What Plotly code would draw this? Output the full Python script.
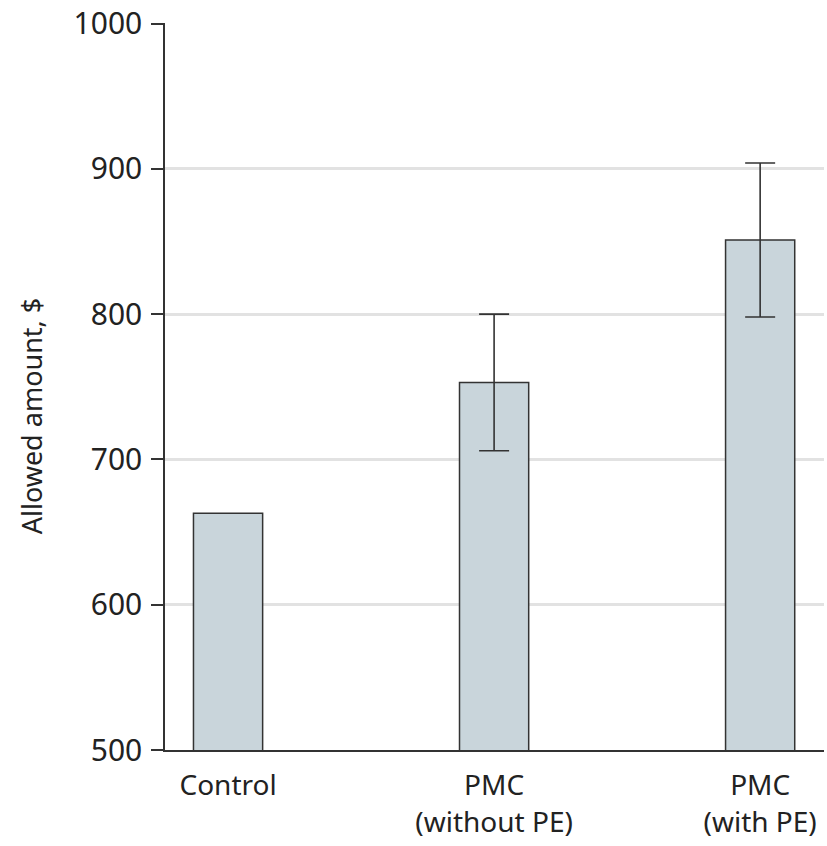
import plotly.graph_objects as go

categories = ["Control", "PMC<br>(without PE)", "PMC<br>(with PE)"]
allowed_amount = [663, 753, 851]
err_plus = [None, 47, 53]
err_minus = [None, 47, 53]
y_ticks = [500, 600, 700, 800, 900, 1000]
y_title = "Allowed amount, $"

positions = list(range(len(categories)))
bar_style = dict(color="#c9d5db", line=dict(color="#333333", width=1.5))

# bars without an error bar
no_err = [i for i in positions if err_plus[i] is None]
with_err = [i for i in positions if err_plus[i] is not None]

fig = go.Figure()
fig.add_trace(go.Bar(
    x=[positions[i] for i in no_err],
    y=[allowed_amount[i] for i in no_err],
    width=0.26, marker=bar_style, showlegend=False,
))
fig.add_trace(go.Bar(
    x=[positions[i] for i in with_err],
    y=[allowed_amount[i] for i in with_err],
    width=0.26, marker=bar_style, showlegend=False,
    error_y=dict(type="data", symmetric=False,
                 array=[err_plus[i] for i in with_err],
                 arrayminus=[err_minus[i] for i in with_err],
                 color="#333333", thickness=1.6, width=15),
))

fig.update_layout(
    width=827, height=846,
    margin=dict(l=165, r=3, t=23, b=96),
    plot_bgcolor="white", paper_bgcolor="white",
    font=dict(family="Noto Sans, Lato, sans-serif", color="#222222"),
    barmode="overlay",
)
# y-axis title placed as an annotation (sits slightly below the axis middle in the reference)
fig.add_annotation(
    text=y_title, textangle=-90, showarrow=False,
    xref="paper", yref="paper", x=0, y=0.459,
    xanchor="center", yanchor="middle", xshift=-134,
    font=dict(size=27, color="#222222"),
)
fig.update_xaxes(
    tickmode="array", tickvals=positions, ticktext=categories,
    range=[-0.237, 2.24],
    showline=True, linecolor="#333333", linewidth=1.5,
    ticks="", showgrid=False, zeroline=False,
    tickfont=dict(size=28), ticklabelstandoff=10,
    automargin=False,
)
fig.update_yaxes(
    range=[500, 1000.4], tickvals=y_ticks,
    showline=True, linecolor="#333333", linewidth=1.5,
    ticks="outside", ticklen=12, tickcolor="#333333", tickwidth=1.5,
    showgrid=True, gridcolor="#e2e2e2", gridwidth=2.5,
    zeroline=False,
    tickfont=dict(size=30), ticklabelstandoff=3, ticklabeloverflow="allow",
    automargin=False,
)

fig.write_html("out.html", config={"displayModeBar": False},
               post_script="document.body.style.margin='0';")
